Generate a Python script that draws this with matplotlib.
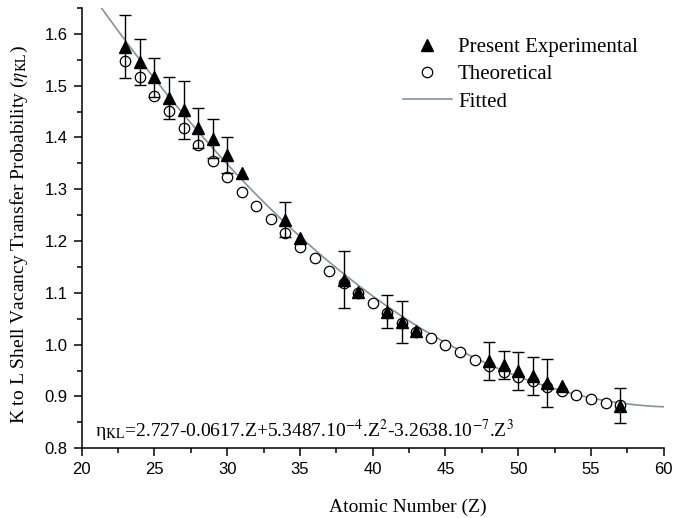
import numpy as np
import matplotlib
matplotlib.use('Agg')
import matplotlib.pyplot as plt
from matplotlib.ticker import MultipleLocator

plt.rcParams['mathtext.fontset'] = 'stix'

# Present experimental values (filled triangles) with error bars
exp_z = [23, 24, 25, 26, 27, 28, 29, 30, 31, 34, 35, 38, 39,
         41, 42, 43, 48, 49, 50, 51, 52, 53, 57]
exp_eta = [1.575, 1.546, 1.516, 1.476, 1.453, 1.418, 1.398, 1.366, 1.332,
           1.241, 1.205, 1.125, 1.102, 1.064, 1.044, 1.027, 0.969, 0.960,
           0.949, 0.940, 0.926, 0.920, 0.882]
exp_err = [0.061, 0.044, 0.038, 0.041, 0.056, 0.039, 0.037, 0.034, 0.0,
           0.034, 0.0, 0.055, 0.0, 0.031, 0.041, 0.0, 0.037, 0.027,
           0.037, 0.037, 0.046, 0.0, 0.034]

# Theoretical values (open circles)
th_z = list(range(23, 58))
th_eta = [1.548, 1.516, 1.481, 1.451, 1.418, 1.386, 1.355, 1.324, 1.295,
          1.268, 1.242, 1.215, 1.189, 1.167, 1.143, 1.120, 1.099, 1.081,
          1.061, 1.042, 1.025, 1.012, 0.999, 0.985, 0.970, 0.958, 0.948,
          0.938, 0.929, 0.918, 0.911, 0.903, 0.895, 0.888, 0.883]

# Fitted cubic, coefficients as printed on the chart (Z^3 ... Z^0)
fit_coef = [-3.2638e-7, 5.3487e-4, -0.0617, 2.727]

fig = plt.figure(figsize=(6.73, 5.18), dpi=100)
ax = fig.add_axes([0.1214, 0.1346, 0.8648, 0.85])

zz = np.linspace(20, 60, 300)
ax.plot(zz, np.polyval(fit_coef, zz), color='#8a9099', lw=1.2, zorder=1,
        label='Fitted')

ax.plot(th_z, th_eta, 'o', ms=7.5, mfc='white', mec='black', mew=0.9,
        zorder=2, label='Theoretical')

err = np.array(exp_err)
has_err = err > 0
ax.errorbar(np.array(exp_z)[has_err], np.array(exp_eta)[has_err],
            yerr=err[has_err], fmt='none', ecolor='black', elinewidth=1.0,
            capsize=4.5, capthick=1.0, zorder=3)
ax.plot(exp_z, exp_eta, '^', ms=8.5, color='black', zorder=4,
        label='Present Experimental')

ax.set_xlim(20, 60)
ax.set_ylim(0.8, 1.65)
ax.xaxis.set_major_locator(MultipleLocator(5))
ax.xaxis.set_minor_locator(MultipleLocator(2.5))
ax.yaxis.set_major_locator(MultipleLocator(0.1))
ax.yaxis.set_minor_locator(MultipleLocator(0.05))
ax.yaxis.set_major_formatter(plt.FormatStrFormatter('%.1f'))

for side in ['top', 'right']:
    ax.spines[side].set_visible(False)
for side in ['left', 'bottom']:
    ax.spines[side].set_linewidth(1.1)

ax.tick_params(which='major', direction='out', length=6, width=1.1, pad=4,
               labelsize=12)
ax.tick_params(which='minor', direction='out', length=3.5, width=1.1)
for lab in ax.get_xticklabels() + ax.get_yticklabels():
    lab.set_family('Liberation Sans')

ax.set_xlabel('Atomic Number (Z)', family='Liberation Serif', fontsize=14)
ax.xaxis.set_label_coords(0.56, -0.115)
ax.set_ylabel(r'K to L Shell Vacancy Transfer Probability ($\eta_{\rm KL}$)',
              family='Liberation Serif', fontsize=14)
ax.yaxis.set_label_coords(-0.088, 0.485)

ax.text(0.023, 0.025,
        'η$_{\\rm KL}$=2.727-0.0617.Z+5.3487.10$^{-4}$.Z$^{2}$'
        '-3.2638.10$^{-7}$.Z$^{3}$',
        transform=ax.transAxes, family='Liberation Serif', fontsize=14)

h, l = ax.get_legend_handles_labels()
order = [2, 1, 0]
ax.legend([h[i] for i in order], [l[i] for i in order], loc='upper left',
          bbox_to_anchor=(0.5515, 0.933), frameon=False,
          borderpad=0, borderaxespad=0,
          prop={'family': 'Liberation Serif', 'size': 15},
          handlelength=2.35, handletextpad=0.3, labelspacing=0.37)

fig.savefig('out.png', dpi=100)
